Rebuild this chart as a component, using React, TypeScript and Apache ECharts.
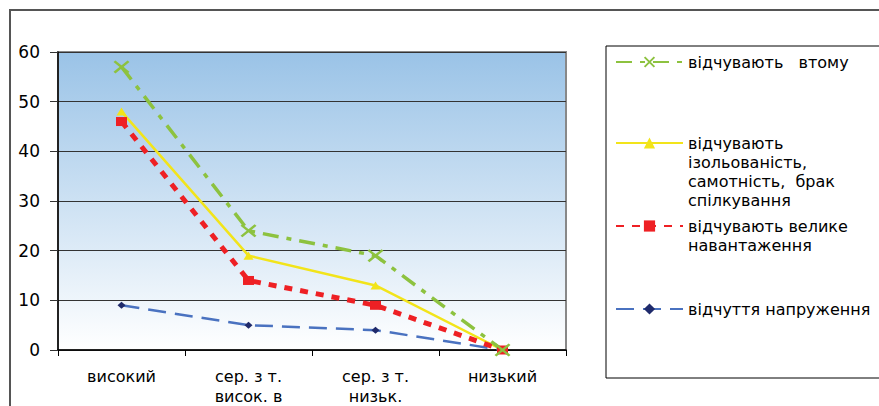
import React, { useEffect, useRef } from "react";
import * as echarts from "echarts";

const categories = ["високий", "сер. з т.\nвисок. в", "сер. з т.\nнизьк.", "низький"];
const fatigueValues = [57, 24, 19, 0];
const isolationValues = [48, 19, 13, 0];
const workloadValues = [46, 14, 9, 0];
const tensionValues = [9, 5, 4, 0];
const yTicks = [0, 10, 20, 30, 40, 50, 60];

const nameFatigue = "відчувають   втому";
const nameIsolation = "відчувають\nізольованість,\nсамотність,  брак\nспілкування";
const nameWorkload = "відчувають велике\nнавантаження";
const nameTension = "відчуття напруження";

const FONT = "DejaVu Sans";
const LH = 19;

export default function App() {
  const ref = useRef<HTMLDivElement>(null);
  useEffect(() => {
    if (!ref.current) return;
    const chart = echarts.init(ref.current, undefined, { renderer: "svg" });
    const crossPath =
      "path://M0,1.2L1.2,0L10,8.8L8.8,10Z M8.8,0L10,1.2L1.2,10L0,8.8Z";
    const legendBase = (name: string, lines: number, iconCenter: number) => {
      const boxH = (2 * lines - 1) * LH;
      return {
        data: [name],
        left: 615,
        top: iconCenter - boxH / 2,
        padding: 0,
        orient: "vertical",
        itemWidth: 67,
        itemHeight: 14,
        selectedMode: false,
        formatter: (n: string) => "\n".repeat(lines - 1) + n,
        textStyle: {
          fontFamily: FONT,
          fontSize: 16,
          color: "#000",
          lineHeight: LH,
        },
      };
    };
    chart.setOption({
      animation: false,
      backgroundColor: "#fff",
      textStyle: { fontFamily: FONT },
      graphic: [
        {
          type: "rect",
          z: 0,
          shape: { x: 10, y: 10, width: 900, height: 420 },
          style: { fill: "none", stroke: "#555", lineWidth: 2 },
        },
        {
          type: "rect",
          z: 0,
          shape: { x: 606, y: 46, width: 300, height: 332 },
          style: { fill: "#fff", stroke: "#000", lineWidth: 1 },
        },
      ],
      grid: {
        left: 58,
        right: 313,
        top: 52,
        bottom: 55,
        show: true,
        borderColor: "#888",
        borderWidth: 2,
        backgroundColor: new echarts.graphic.LinearGradient(0, 0, 0, 1, [
          { offset: 0, color: "#9AC3E7" },
          { offset: 1, color: "#FFFFFF" },
        ]),
      },
      legend: [
        legendBase(nameFatigue, 1, 62),
        legendBase(nameIsolation, 4, 143),
        legendBase(nameWorkload, 2, 226),
        legendBase(nameTension, 1, 309),
      ],
      xAxis: {
        type: "category",
        data: categories,
        boundaryGap: true,
        axisLine: { show: true, lineStyle: { color: "#000", width: 1.5 } },
        axisTick: { show: true, length: 6, lineStyle: { color: "#000" } },
        axisLabel: {
          fontFamily: FONT,
          fontSize: 16,
          color: "#000",
          margin: 16,
          lineHeight: 20,
          interval: 0,
        },
        splitLine: { show: false },
      },
      yAxis: {
        type: "value",
        min: yTicks[0],
        max: yTicks[yTicks.length - 1],
        interval: 10,
        axisLine: { show: true, lineStyle: { color: "#000", width: 1.5 } },
        axisTick: { show: true, length: 8, lineStyle: { color: "#333" } },
        axisLabel: { fontFamily: FONT, fontSize: 17, color: "#000", margin: 18 },
        splitLine: { show: true, lineStyle: { color: "#333", width: 1 } },
      },
      series: [
        {
          name: nameTension,
          type: "line",
          data: tensionValues,
          symbol: "diamond",
          symbolSize: [8, 7],
          lineStyle: { color: "#4A72C0", width: 2.5, type: [18, 9] },
          itemStyle: { color: "#1F2A6B" },
        },
        {
          name: nameIsolation,
          type: "line",
          data: isolationValues,
          symbol: "triangle",
          symbolSize: [10, 8],
          lineStyle: { color: "#F2E41A", width: 2.5, type: "solid" },
          itemStyle: { color: "#F2E41A" },
        },
        {
          name: nameWorkload,
          type: "line",
          data: workloadValues,
          symbol: "rect",
          symbolSize: [11, 9],
          lineStyle: { color: "#EE2024", width: 5, type: [8, 8] },
          itemStyle: { color: "#EE2024" },
        },
        {
          name: nameFatigue,
          type: "line",
          data: fatigueValues,
          symbol: crossPath,
          symbolSize: [16, 13],
          lineStyle: { color: "#8DC23F", width: 3.5, type: [16, 8, 5, 8] },
          itemStyle: { color: "#8DC23F" },
        },
      ],
    });
    return () => chart.dispose();
  }, []);
  return (
    <div
      ref={ref}
      style={{ position: "fixed", left: 0, top: 0, width: 879, height: 406 }}
    />
  );
}
